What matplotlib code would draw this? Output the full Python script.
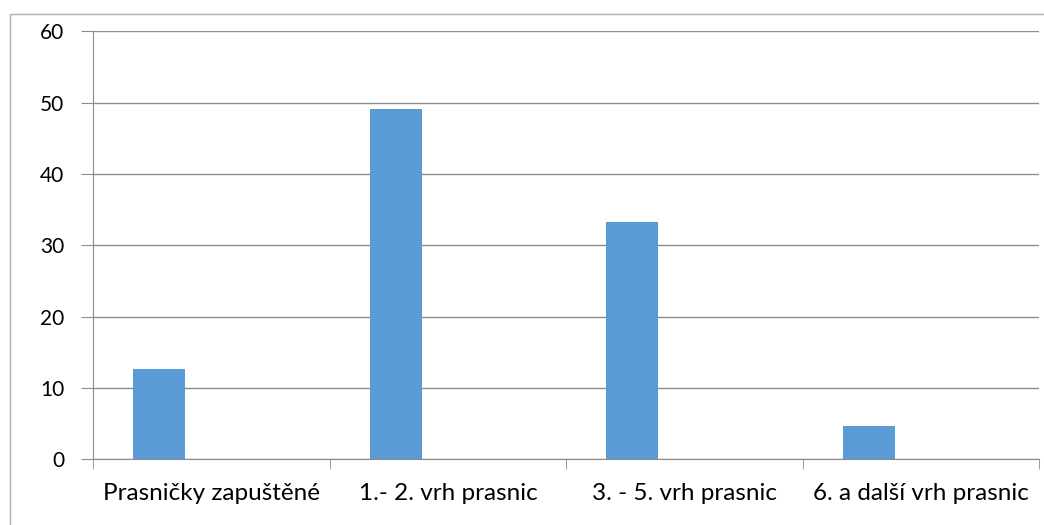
import matplotlib.pyplot as plt
import numpy as np
from matplotlib.patches import Rectangle

categories = ["Prasničky zapuštěné", "1.- 2. vrh prasnic", "3. - 5. vrh prasnic", "6. a další vrh prasnic"]
values = [12.7, 49.2, 33.3, 4.7]

plt.rcParams['font.family'] = ['Lato', 'DejaVu Sans']

fig = plt.figure(figsize=(10.44, 5.25), dpi=100)
ax = fig.add_axes([0.0894, 0.1248, 0.9061, 0.8152])

# outer chart border
fig.patches.append(Rectangle((9.5 / 1044, -0.1), 1.2, 1 - 13.5 / 525 + 0.1,
                             transform=fig.transFigure, fill=False,
                             edgecolor='#b0b0b0', linewidth=1.0))

x = np.arange(len(categories))
width = 0.221
ax.bar(x - width, values, width=width, color='#5b9bd5', zorder=3)

ax.set_xlim(-0.5, len(categories) - 0.5)
ax.set_ylim(0, 60)
ax.set_yticks(range(0, 61, 10))
ax.set_xticks(x)
ax.set_xticklabels(categories)
ax.set_xticks(np.arange(-0.5, len(categories), 1), minor=True)

grid_color = '#8c8c8c'
ax.yaxis.grid(True, color=grid_color, linewidth=1.0, zorder=0)
for s in ['top', 'right']:
    ax.spines[s].set_visible(False)
ax.spines['left'].set_color(grid_color)
ax.spines['bottom'].set_color(grid_color)

ax.tick_params(axis='y', length=9, color=grid_color, pad=12, labelsize=15)
ax.tick_params(axis='x', which='major', length=0, pad=17, labelsize=17.5)
ax.tick_params(axis='x', which='minor', length=7, color=grid_color)

fig.savefig("out.png", dpi=100)
